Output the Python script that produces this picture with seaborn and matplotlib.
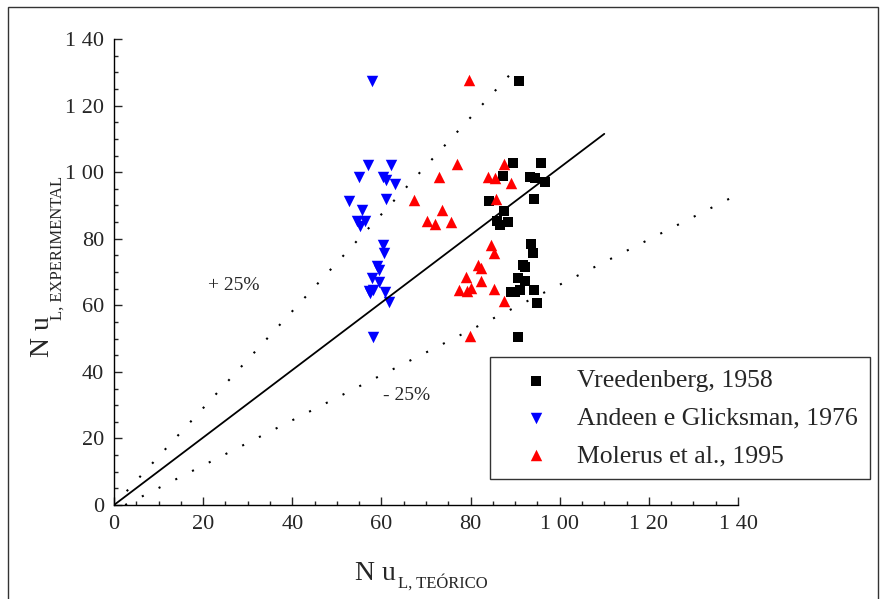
import numpy as np
import pandas as pd
import matplotlib
matplotlib.use("Agg")
import matplotlib.pyplot as plt
import seaborn as sns
from matplotlib.ticker import MultipleLocator
from matplotlib.patches import Rectangle

# dados (Nu teorico, Nu experimental)
vree_x = [90.9, 89.5, 95.7, 87.2, 93.3, 94.5, 96.6, 84.2, 94.3, 87.5, 85.9, 88.3, 86.6,
          93.5, 93.9, 91.8, 92.3, 90.7, 92.3, 89.1, 90.0, 91.1, 94.3, 94.8, 90.7]
vree_y = [127.5, 102.6, 102.6, 98.8, 98.4, 98.1, 96.9, 91.4, 91.8, 88.4, 85.3, 85.1, 84.1,
          78.3, 75.6, 72.1, 71.4, 68.1, 67.4, 64.1, 64.1, 64.6, 64.6, 60.8, 50.6]

andeen_x = [57.9, 57.0, 62.2, 55.0, 60.4, 61.0, 63.0, 52.7, 61.0, 55.6, 54.5, 56.3, 55.2,
            60.4, 60.6, 59.0, 59.5, 57.9, 59.5, 57.1, 58.2, 57.4, 60.8, 61.8, 58.0]
andeen_y = [127.4, 102.1, 102.1, 98.5, 98.5, 97.6, 96.4, 91.3, 91.9, 88.6, 85.3, 85.3, 83.8,
            78.1, 75.7, 71.8, 70.6, 68.1, 67.1, 64.3, 64.6, 63.8, 64.1, 61.1, 50.4]

molerus_x = [79.7, 76.9, 87.5, 73.0, 84.0, 85.5, 89.0, 67.3, 85.8, 73.5, 70.2, 72.0, 75.5,
             84.5, 85.3, 81.7, 82.3, 79.0, 82.3, 77.5, 79.1, 80.2, 85.3, 87.4, 79.9]
molerus_y = [127.7, 102.3, 102.3, 98.6, 98.6, 98.3, 96.6, 91.6, 91.8, 88.6, 85.4, 84.3, 85.1,
             78.1, 75.8, 72.1, 71.1, 68.4, 67.4, 64.6, 64.4, 65.1, 64.8, 61.4, 50.8]

# retas de referencia
ideal_x = [0, 110]
ideal_y = [0, 111.5]
sup_x = [0, 90]
sup_y = [0, 131]
inf_x = [2.5, 139.5]
inf_y = [0, 93]

ticks = [0, 20, 40, 60, 80, 100, 120, 140]
tick_labels = ['0', '20', '40', '60', '80', '1 00', '1 20', '1 40']

sns.set_style("white")
plt.rcParams['font.family'] = ['Liberation Serif', 'DejaVu Serif']

fig = plt.figure(figsize=(8.8, 5.99), dpi=100)
ax = fig.add_axes([114/880, 1-505/599, 624/880, 466/599])

series = [
    (vree_x, vree_y, 'Vreedenberg, 1958', 'black', 's', 42),
    (andeen_x, andeen_y, 'Andeen e Glicksman, 1976', 'blue', 'v', 68),
    (molerus_x, molerus_y, 'Molerus et al., 1995', 'red', '^', 68),
]
for xs, ys, nome, cor, mk, tam in series:
    df = pd.DataFrame({'x': xs, 'y': ys})
    sns.scatterplot(data=df, x='x', y='y', ax=ax, color=cor, marker=mk, s=tam,
                    linewidth=0, label=nome, zorder=3)

ax.plot(ideal_x, ideal_y, color='black', lw=1.3, zorder=4)
ax.plot(sup_x, sup_y, color='black', lw=1.5, linestyle=(0, (1, 8)), zorder=4)
ax.plot(inf_x, inf_y, color='black', lw=1.5, linestyle=(0, (1, 8)), zorder=4)

ax.text(21, 66, '+ 25%', fontsize=14, va='center', ha='left')
ax.text(60.4, 33, '- 25%', fontsize=14, va='center', ha='left')

ax.set_xlim(0, 140)
ax.set_ylim(0, 140)
ax.set_xticks(ticks, labels=tick_labels)
ax.set_yticks(ticks, labels=tick_labels)
ax.xaxis.set_minor_locator(MultipleLocator(5))
ax.yaxis.set_minor_locator(MultipleLocator(5))
ax.tick_params(which='major', direction='in', length=6, width=1, labelsize=16, pad=7,
               bottom=True, left=True)
ax.tick_params(which='minor', direction='in', length=3, width=1, bottom=True, left=True)
for s in ['top', 'right']:
    ax.spines[s].set_visible(False)
for s in ['left', 'bottom']:
    ax.spines[s].set_color('black')
    ax.spines[s].set_linewidth(1)
ax.set_xlabel('')
ax.set_ylabel('')

# rotulos dos eixos
fig.text(355/880, 1-580/599, 'N u', fontsize=20, ha='left', va='baseline')
fig.text(398/880, 1-588/599, 'L, TEÓRICO', fontsize=12, ha='left', va='baseline')
fig.text(55/880, 1-357/599, 'N u', fontsize=20, rotation=90, ha='right', va='bottom')
fig.text(66/880, 1-320/599, 'L, EXPERIMENTAL', fontsize=12, rotation=90, ha='right', va='bottom')

leg = ax.legend(loc='upper left', bbox_to_anchor=(490/880, 1-357/599),
                bbox_transform=fig.transFigure, frameon=True, fancybox=False,
                fontsize=18.5, handlelength=2.65, handletextpad=0.25, borderpad=0.48,
                labelspacing=0.56, borderaxespad=0)
leg.get_frame().set_edgecolor('black')
leg.get_frame().set_linewidth(1)

# moldura da figura
fig.patches.append(Rectangle((8/880, -0.05), 870/880, 1.05-7/599, transform=fig.transFigure,
                             fill=False, edgecolor='#333333', lw=1))

fig.savefig('out.png', dpi=100)
